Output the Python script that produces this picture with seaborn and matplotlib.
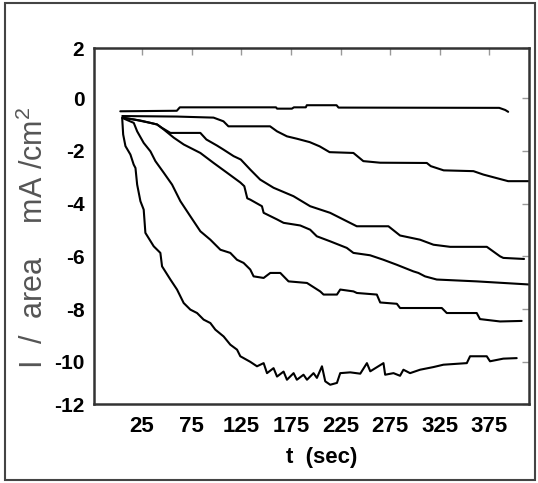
import numpy as np
import pandas as pd
import seaborn as sns
import matplotlib
matplotlib.use("Agg")
import matplotlib.pyplot as plt
from matplotlib.patches import Rectangle

# ---- data ----
t_c1 = [3, 60, 63, 160, 161, 176, 178, 190, 191, 221, 223, 385, 391, 394]
i_c1 = [-0.5, -0.48, -0.35, -0.35, -0.4, -0.4, -0.35, -0.35, -0.27, -0.27, -0.36, -0.37, -0.45, -0.52]

t_c2 = [5, 60, 97, 107, 112, 154, 161, 171, 181, 194, 204, 214, 238, 248, 265, 312, 316, 329,
        359, 369, 382, 394, 416]
i_c2 = [-0.68, -0.7, -0.74, -0.88, -1.07, -1.07, -1.26, -1.45, -1.54, -1.67, -1.83, -2.05, -2.08,
        -2.39, -2.45, -2.46, -2.58, -2.74, -2.77, -2.9, -3.03, -3.15, -3.15]

t_c3 = [6.5, 16.5, 33.4, 40.1, 45.1, 53.5, 83.7, 89.8, 100.5, 106.9, 117.2, 124.5, 134, 144,
        157.5, 177.6, 194.4, 214.5, 241.4, 273.3, 285, 305.2, 318.7, 335.5, 372.5, 385.8, 389.1, 410]
i_c3 = [-0.75, -0.81, -0.94, -1.0, -1.13, -1.32, -1.32, -1.57, -1.8, -1.95, -2.2, -2.33, -2.71,
        -3.09, -3.4, -3.72, -4.1, -4.35, -4.86, -4.86, -5.21, -5.37, -5.56, -5.64, -5.64, -6.0,
        -6.06, -6.1]

t_c4 = [6.5, 23.3, 40.1, 46.8, 56.9, 67, 83.7, 97.1, 110.6, 124, 128, 131, 134, 145.8, 147.5,
        161, 167.6, 184.4, 194.4, 201.1, 214.5, 231.3, 238, 254.8, 268.2, 281.7, 298.4, 303.5,
        310.2, 322, 362.3, 402.6, 416]
i_c4 = [-0.75, -0.85, -1.0, -1.19, -1.5, -1.76, -2.08, -2.46, -2.83, -3.2, -3.34, -3.8, -3.85,
        -4.1, -4.35, -4.6, -4.73, -4.83, -4.99, -5.24, -5.43, -5.68, -5.87, -5.96, -6.13, -6.32,
        -6.57, -6.63, -6.76, -6.88, -6.95, -7.04, -7.07]

t_c5 = [4.9, 16.6, 20, 26.6, 33.4, 38.4, 46.8, 55.2, 63.6, 73.6, 83.7, 93.8, 103.9, 113.9, 120.6,
        127.3, 134, 137.4, 147.5, 154.2, 164.3, 172.6, 191.2, 204.5, 207.9, 221.4, 224.7, 238.1,
        241.5, 261.6, 265, 281.8, 285, 327.1, 332.1, 362.3, 365.6, 385.8, 407.6]
i_c5 = [-0.75, -0.94, -1.26, -1.7, -2.02, -2.39, -2.83, -3.28, -3.91, -4.48, -5.05, -5.37, -5.75,
        -5.87, -6.13, -6.25, -6.5, -6.76, -6.82, -6.63, -6.63, -6.95, -7.01, -7.33, -7.45, -7.45,
        -7.26, -7.33, -7.39, -7.45, -7.75, -7.8, -7.96, -7.96, -8.15, -8.15, -8.38, -8.47, -8.45]

t_c6 = [4.9, 5.9, 8.2, 13.2, 16.5, 18.3, 20, 23.3, 26.6, 28.3, 36.7, 43.4, 45.1, 53.5, 60.2, 66.9,
        73.6, 80.4, 87, 93.8, 98.8, 107.2, 113.9, 120.7, 124, 134, 140.8, 147.5, 150.9, 157.5,
        161, 167.6, 171, 177.7, 181, 187.7, 191.2, 197.8, 201.2, 206.3, 209.6, 214.6, 221.4,
        224.7, 234.8, 244.9, 251.6, 255, 268.3, 270, 278.4, 285, 288.4, 295.1, 305.2, 318.6,
        328.7, 352.3, 355.6, 372.4, 375.7, 389.1, 402.6]
i_c6 = [-0.75, -1.38, -1.82, -2.14, -2.52, -2.65, -3.28, -3.91, -4.23, -5.11, -5.62, -5.87, -6.38,
        -6.88, -7.26, -7.77, -8.02, -8.15, -8.4, -8.53, -8.78, -9.04, -9.35, -9.54, -9.79, -10.0,
        -10.17, -10.05, -10.43, -10.24, -10.56, -10.37, -10.68, -10.43, -10.68, -10.49, -10.68,
        -10.43, -10.61, -10.17, -10.74, -10.87, -10.8, -10.43, -10.4, -10.45, -10.05, -10.36,
        -10.05, -10.49, -10.43, -10.53, -10.3, -10.43, -10.3, -10.2, -10.11, -10.05, -9.79,
        -9.79, -9.98, -9.88, -9.86]

x_ticks = [25, 75, 125, 175, 225, 275, 325, 375]
y_ticks = [1.9, 0, -2, -4, -6, -8, -10, -11.6]
y_tick_labels = ["2", "0", "-2", "-4", "-6", "-8", "-10", "-12"]

frames = []
for name, tt, ii in [("c1", t_c1, i_c1), ("c2", t_c2, i_c2), ("c3", t_c3, i_c3),
                     ("c4", t_c4, i_c4), ("c5", t_c5, i_c5), ("c6", t_c6, i_c6)]:
    frames.append(pd.DataFrame({"t": tt, "I": ii, "curve": name}))
df = pd.concat(frames, ignore_index=True)

# ---- style ----
sns.set_theme(style="white")
plt.rcParams["font.family"] = ["Liberation Sans Narrow", "Liberation Sans", "DejaVu Sans"]
plt.rcParams["mathtext.fontset"] = "custom"
plt.rcParams["mathtext.rm"] = "Liberation Sans"

W, H = 538, 483
fig = plt.figure(figsize=(W / 100, H / 100), dpi=100)
fig.patch.set_facecolor("white")
ax = fig.add_axes([94 / W, 1 - 404 / H, (529 - 94) / W, (404 - 48) / H])

sns.lineplot(data=df, x="t", y="I", units="curve", estimator=None, sort=False,
             color="black", linewidth=1.5, ax=ax, legend=False)

ax.set_xlim(-23.5, 415)
ax.set_ylim(-11.6, 1.9)
ax.set_xticks(x_ticks)
ax.set_xticklabels([str(v) for v in x_ticks], fontweight="bold", fontsize=16)
ax.set_yticks(y_ticks)
ax.set_yticklabels(y_tick_labels, fontweight="bold", fontsize=15)
ax.tick_params(axis="both", direction="in", length=5, width=1, color="#999999",
               top=True, right=True, labelcolor="black")
ax.tick_params(axis="x", pad=9)
ax.tick_params(axis="y", pad=7)

for s in ax.spines.values():
    s.set_visible(True)
    s.set_color("#333333")
    s.set_linewidth(1.8)

ax.set_ylabel("")
ax.set_xlabel("t  (sec)", fontweight="bold", fontsize=16, color="black")
ax.xaxis.set_label_coords((322 - 94) / (529 - 94), -(458 - 404) / (404 - 48))
ax.xaxis.label.set_va("center")

fig.text(34 / W, 1 - 238 / H, "I  /  area    mA /cm$^2$", rotation=90, ha="center",
         va="center", color="#555555", fontsize=22, family=["Liberation Sans", "DejaVu Sans"])

fig.add_artist(Rectangle((5 / W, 3 / H), 530 / W, 477 / H, transform=fig.transFigure,
                         fill=False, edgecolor="#444444", linewidth=1.5))

fig.savefig("out.png", dpi=100, facecolor="white")
